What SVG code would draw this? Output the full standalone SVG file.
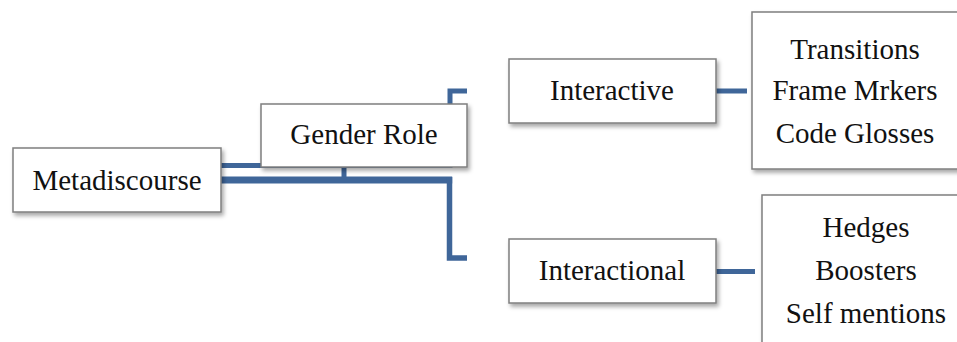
<svg xmlns="http://www.w3.org/2000/svg" width="957" height="342" viewBox="0 0 957 342">
<style>
.box{fill:#fff;stroke:#7f7f7f;stroke-width:1.5;filter:url(#sh)}
.t{font-family:"Liberation Serif","Times New Roman",serif;font-size:29px;fill:#111;text-anchor:middle}
.ln{fill:none;stroke:#3f6699;stroke-linecap:butt;stroke-linejoin:miter}
</style>
<defs>
<filter id="sh" x="-10%" y="-20%" width="130%" height="150%">
<feDropShadow dx="2" dy="3" stdDeviation="2" flood-color="#000" flood-opacity="0.35"/>
</filter>
</defs>
<rect width="957" height="342" fill="#fff"/>
<g id="connectors">
<path class="ln" d="M221 165.5H450V91H467" stroke-width="5"/>
<path class="ln" d="M221 180H452.2" stroke-width="7"/>
<path class="ln" d="M344 167V180" stroke-width="5"/>
<path class="ln" d="M449.5 177V258H467" stroke-width="5.5"/>
<path class="ln" d="M716 91H747" stroke-width="5"/>
<path class="ln" d="M716 271.5H755" stroke-width="5"/>
</g>
<g id="metadiscourse">
<rect class="box" x="13" y="148" width="208" height="64"/>
<text class="t" x="117" y="190">Metadiscourse</text>
</g>
<g id="gender-role">
<rect class="box" x="261" y="104" width="206" height="63"/>
<text class="t" x="364" y="144">Gender Role</text>
</g>
<g id="interactive">
<rect class="box" x="509" y="59" width="207" height="64"/>
<text class="t" x="612" y="100">Interactive</text>
</g>
<g id="interactional">
<rect class="box" x="509" y="239" width="207" height="64"/>
<text class="t" x="612" y="280">Interactional</text>
</g>
<g id="interactive-list">
<rect class="box" x="752" y="12" width="215" height="157"/>
<text class="t" x="855" y="59">Transitions</text>
<text class="t" x="855" y="100">Frame Mrkers</text>
<text class="t" x="855" y="143">Code Glosses</text>
</g>
<g id="interactional-list">
<rect class="box" x="762" y="195" width="205" height="160"/>
<text class="t" x="866" y="237">Hedges</text>
<text class="t" x="866" y="280">Boosters</text>
<text class="t" x="866" y="323">Self mentions</text>
</g>
</svg>
